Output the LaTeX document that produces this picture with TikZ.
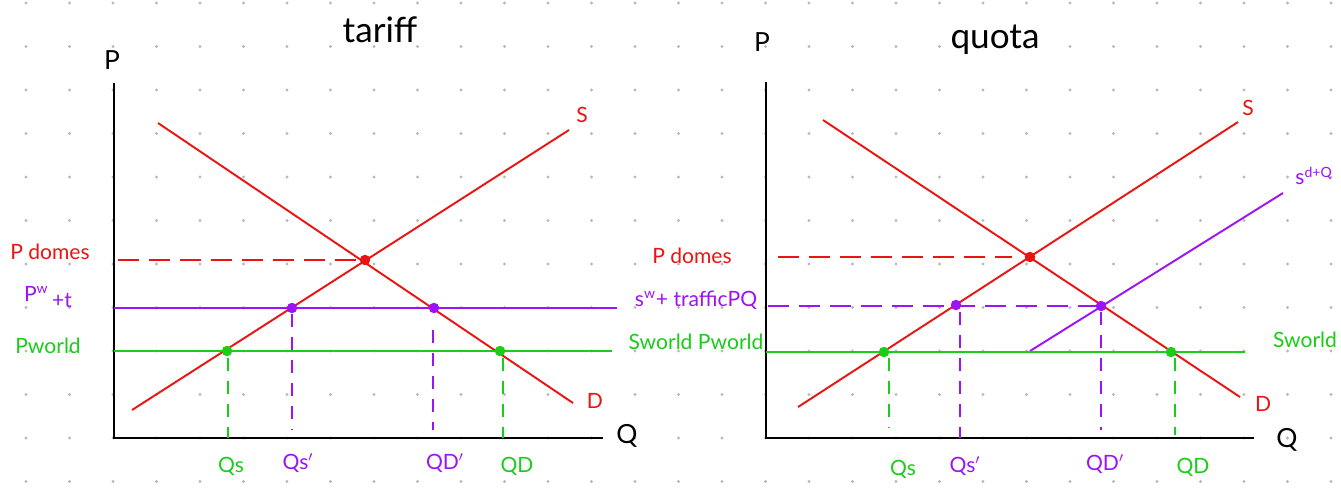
\documentclass[tikz,border=0pt]{standalone}
\usepackage{fontspec}
\setmainfont{Lato}
\definecolor{penred}{RGB}{235,20,20}
\definecolor{penpurple}{RGB}{155,20,245}
\definecolor{pengreen}{RGB}{25,205,25}

\begin{document}
\begin{tikzpicture}[x=0.02cm, y=-0.02cm,
    axis/.style={black, line width=1.4pt},
    curve/.style={line width=1.1pt},
    hdash/.style={line width=0.9pt, dash pattern=on 0.42cm off 0.2cm},
    vdash/.style={line width=0.9pt, dash pattern=on 0.26cm off 0.2cm},
    pt/.style={circle, fill, inner sep=0pt, minimum size=0.21cm},
    lbl/.style={font=\fontsize{12}{12}\selectfont},
    ttl/.style={font=\fontsize{20}{20}\selectfont}]
    \useasboundingbox (0,0) rectangle (1341,488);
    % dotted paper
    \foreach \i in {0,...,30}
        \foreach \j in {0,...,11}
            \fill[gray!55] (26+43.5*\i, 3+43.5*\j) circle (1.7);

    % ---------- tariff ----------
        \draw[axis] (114,83) -- (114,438) -- (603,438);
        \draw[penred, curve] (158,123) -- (573,403);
        \draw[penred, curve] (132,410) -- (569,130);
        \draw[penpurple, curve] (114,308) -- (617,308);
        \draw[pengreen, curve] (114,351) -- (612,351);
    % dashed guides
        \draw[penred, hdash] (118,260) -- (358,260);
        \draw[pengreen, vdash] (228,358) -- (228,438);
        \draw[penpurple, vdash] (292,314) -- (292,430);
        \draw[penpurple, vdash] (433,330) -- (433,430);
        \draw[pengreen, vdash] (503,358) -- (503,438);
    % points
        \node[pt, penred] (eqT) at (365,260) {};
        \node[pt, penpurple] (qsT) at (292,308) {};
        \node[pt, penpurple] (qdT) at (434,308) {};
        \node[pt, pengreen] (wsT) at (227,351) {};
        \node[pt, pengreen] (wdT) at (500,351) {};
    % Below nodes are the labels.
        \node[ttl] (tTariff) at (380,30) {tariff};
        \node[lbl, font=\fontsize{15}{15}\selectfont] (tPT) at (112,60) {P};
        \node[lbl, font=\fontsize{15}{15}\selectfont] (tQT) at (627,436) {Q};
        \node[lbl, penred] (tST) at (582,115) {S};
        \node[lbl, penred] (tDT) at (595,401) {D};
        \node[lbl, penred] (tDomT) at (50,252) {P domes};
        \node[lbl, penpurple] (tPwT) at (48,297) {P\textsuperscript{w}\,\raisebox{-0.6ex}{+t}};
        \node[lbl, pengreen] (tPwoT) at (48,346) {Pworld};
        \node[lbl, pengreen] (tQsT) at (231,466) {Qs};
        \node[lbl, penpurple] (tQs1T) at (298,463) {Qs$'$};
        \node[lbl, penpurple] (tQd1T) at (445,463) {QD$'$};
        \node[lbl, pengreen] (tQdT) at (517,466) {QD};

    % ---------- quota ----------
        \draw[axis] (766,82) -- (766,438) -- (1254,438);
        \draw[penred, curve] (823,120) -- (1240,397);
        \draw[penred, curve] (798,407) -- (1238,122);
        \draw[penpurple, curve] (1030,351) -- (1283,193);
        \draw[pengreen, curve] (766,352) -- (1245,352);
    % dashed guides
        \draw[penred, hdash] (778,257) -- (1012,257);
        \draw[penpurple, hdash] (768,306) -- (1096,306);
        \draw[pengreen, vdash] (889,358) -- (889,428);
        \draw[penpurple, vdash] (960,312) -- (960,438);
        \draw[penpurple, vdash] (1101,312) -- (1101,430);
        \draw[pengreen, vdash] (1175,358) -- (1175,435);
    % points
        \node[pt, penred] (eqQ) at (1030,257) {};
        \node[pt, penpurple] (qsQ) at (956,305) {};
        \node[pt, penpurple] (qdQ) at (1101,306) {};
        \node[pt, pengreen] (wsQ) at (884,352) {};
        \node[pt, pengreen] (wdQ) at (1171,352) {};
    % Below nodes are the labels.
        \node[ttl] (tQuota) at (995,40) {quota};
        \node[lbl, font=\fontsize{15}{15}\selectfont] (tPQ) at (762,42) {P};
        \node[lbl, font=\fontsize{15}{15}\selectfont] (tQQ) at (1287,440) {Q};
        \node[lbl, penred] (tSQ) at (1248,108) {S};
        \node[lbl, penred] (tDQ) at (1263,404) {D};
        \node[lbl, penpurple] (tSdQ) at (1314,176) {s\textsuperscript{d+Q}};
        \node[lbl, pengreen] (tSwQ) at (1305,340) {Sworld};
        \node[lbl, penred] (tDomQ) at (692,256) {P domes};
        \node[lbl, penpurple] (tSwtQ) at (696,300) {s\textsuperscript{w}+ trafficPQ};
        \node[lbl, pengreen] (tSpwQ) at (696,342) {Sworld Pworld};
        \node[lbl, pengreen] (tQsQ) at (903,469) {Qs};
        \node[lbl, penpurple] (tQs1Q) at (965,466) {Qs$'$};
        \node[lbl, penpurple] (tQd1Q) at (1105,464) {QD$'$};
        \node[lbl, pengreen] (tQdQ) at (1193,467) {QD};
\end{tikzpicture}
\end{document}
